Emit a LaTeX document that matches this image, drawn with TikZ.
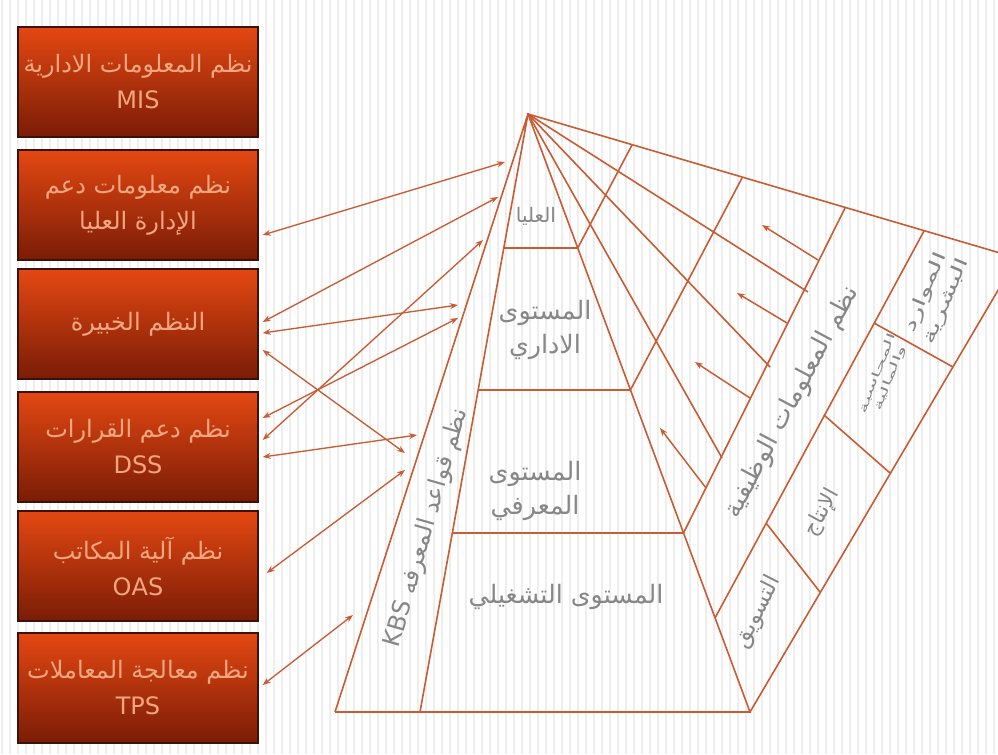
\documentclass[tikz,border=0pt]{standalone}
\usepackage{fontspec}
\usetikzlibrary{arrows.meta,calc}
\newfontfamily\ar[Script=Arabic]{DejaVu Sans}
\TeXXeTstate=1
\definecolor{ln}{RGB}{200,92,52}
\definecolor{boxtop}{RGB}{228,72,18}
\definecolor{boxmid}{RGB}{204,58,14}
\definecolor{boxbot}{RGB}{122,28,6}
\definecolor{boxedge}{RGB}{60,18,8}
\definecolor{boxtxt}{RGB}{242,166,128}
\definecolor{gtxt}{RGB}{135,135,135}
\definecolor{stripe}{RGB}{238,238,238}
\tikzset{
  sysbox/.style={draw=boxedge, line width=1pt, top color=boxtop, middle color=boxmid, bottom color=boxbot,
    minimum width=180pt, minimum height=82.5pt, inner sep=0pt, align=center, text=boxtxt,
    font=\ar\fontsize{18}{27}\selectfont},
  pyr/.style={ln, line width=1.2pt},
  conn/.style={ln, line width=1pt, arrows={Stealth[length=6pt,width=4.5pt]-Stealth[length=6pt,width=4.5pt]}},
  inarr/.style={ln, line width=1.1pt, arrows={-Stealth[length=6pt,width=4.5pt]}},
  lvl/.style={text=gtxt, align=center, inner sep=1pt, font=\ar\fontsize{19}{25}\selectfont},
}
\begin{document}
\begin{tikzpicture}[x=0.75pt,y=-0.75pt]
\useasboundingbox (0,0) rectangle (998,754);
\fill[white] (0,0) rectangle (998,754);
\foreach \i in {2,10,...,998} \draw[stripe, line width=1.6pt] (\i,0) -- (\i,754);

% boxes
\node[sysbox] (b1) at (138,82) {\beginR نظم المعلومات الادارية\endR\\MIS};
\node[sysbox] (b2) at (138,205) {\beginR نظم معلومات دعم\endR\\\beginR الإدارة العليا\endR};
\node[sysbox] (b3) at (138,324) {\beginR النظم الخبيرة\endR};
\node[sysbox] (b4) at (138,447) {\beginR نظم دعم القرارات\endR\\DSS};
\node[sysbox] (b5) at (138,566) {\beginR نظم آلية المكاتب\endR\\OAS};
\node[sysbox] (b6) at (138,688) {\beginR نظم معالجة المعاملات\endR\\TPS};

% pyramid points
\coordinate (A) at (528,114);
\coordinate (BL) at (335,712);
\coordinate (KB) at (420,712);
\coordinate (BR) at (750,712);
\coordinate (TR) at (1017,258);
\coordinate (L1l) at (503.7,248); \coordinate (L1r) at (577.7,248);
\coordinate (L2l) at (478,390);   \coordinate (L2r) at (630.4,390);
\coordinate (L3l) at (452.1,533); \coordinate (L3r) at (683.5,533);
\coordinate (C1t) at (632,145);
\coordinate (C2t) at (742,178);
\coordinate (C3t) at (845,208);
\coordinate (C4t) at (924,231);
\coordinate (C4b) at (715,618);
\coordinate (F1e) at (808,292);
\coordinate (F2e) at (770,367);
\coordinate (F3e) at (722,458);

% pyramid outline and strips
\draw[pyr] (BL) -- (A) -- (KB);
\draw[pyr] (BL) -- (BR) -- (A) -- (TR) -- (BR);
\draw[pyr] (L1l) -- (L1r);
\draw[pyr] (L2l) -- (L2r);
\draw[pyr] (L3l) -- (L3r);
% fan lines
\draw[pyr] (A) -- (F1e);
\draw[pyr] (A) -- (F2e);
\draw[pyr] (A) -- (F3e);
% crossing lines
\draw[pyr] (C1t) -- (L1r);
\draw[pyr] (C2t) -- (L2r);
\draw[pyr] (C3t) -- (L3r);
\draw[pyr] (C4t) -- (C4b);
% separators in outer band
\draw[pyr] (766,523) -- (820,592);
\draw[pyr] (824,415) -- (890,473);
\draw[pyr] (874,323) -- (953,367);

% inner arrows
\coordinate (a1) at (818,260); \coordinate (a2) at (762,225);
\coordinate (b1t) at (787,323); \coordinate (b2h) at (737,293);
\coordinate (c1) at (750,398); \coordinate (c2) at (695,362);
\coordinate (d1) at (706,488); \coordinate (d2) at (660,428);
\draw[inarr] (a1) -- (a2);
\draw[inarr] (b1t) -- (b2h);
\draw[inarr] (c1) -- (c2);
\draw[inarr] (d1) -- (d2);

% connector ends
\coordinate (e1) at (505,162);
\coordinate (e2) at (498,197);
\coordinate (e3) at (458,305);
\coordinate (e4) at (405,453);
\coordinate (e5) at (458,318);
\coordinate (e6) at (483,240);
\coordinate (e7) at (417,435);
\coordinate (e8) at (405,470);
\coordinate (e9) at (353,615);
\draw[conn] ($(b2.east)+(4,30)$) -- (e1);
\draw[conn] ($(b3.east)+(4,-2)$) -- (e2);
\draw[conn] ($(b3.east)+(4,9)$) -- (e3);
\draw[conn] ($(b3.east)+(4,26)$) -- (e4);
\draw[conn] ($(b4.east)+(4,-29)$) -- (e5);
\draw[conn] ($(b4.east)+(4,-7)$) -- (e6);
\draw[conn] ($(b4.east)+(4,10)$) -- (e7);
\draw[conn] ($(b5.east)+(8,7)$) -- (e8);
\draw[conn] ($(b6.east)+(4,-3)$) -- (e9);

% labels
\node[lvl, font=\ar\fontsize{15}{18}\selectfont] (t1) at (536,216) {\beginR العليا\endR};
\node[lvl] (t2) at (545,330) {\beginR المستوى\endR\\\beginR الاداري\endR};
\node[lvl] (t3) at (535,491) {\beginR المستوى\endR\\\beginR المعرفي\endR};
\node[lvl] (t4) at (566,597) {\beginR المستوى التشغيلي\endR};
\node[lvl, rotate=74, font=\ar\fontsize{18}{22}\selectfont] (kbs) at (427,528) {\beginR نظم قواعد المعرفه \beginL KBS\endL\endR};
\node[lvl, rotate=62] (fis) at (792,402) {\beginR نظم المعلومات الوظيفية\endR};
\node[lvl, rotate=63, font=\ar\fontsize{17}{20}\selectfont] (mkt) at (758,612) {\beginR التسويق\endR};
\node[lvl, rotate=61, font=\ar\fontsize{16}{20}\selectfont] (prd) at (822,513) {\beginR الإنتاج\endR};
\node[lvl, rotate=69, font=\ar\fontsize{8}{10}\selectfont] (acc) at (884,376) {\scalebox{2.1}[1]{\beginR المحاسبة\endR}\\\scalebox{2.1}[1]{\beginR والمالية\endR}};
\node[lvl, rotate=67, font=\ar\fontsize{13}{17}\selectfont] (hr) at (936,297) {\scalebox{1.7}[1]{\beginR الموارد\endR}\\\scalebox{1.7}[1]{\beginR البشرية\endR}};
\end{tikzpicture}
\end{document}
